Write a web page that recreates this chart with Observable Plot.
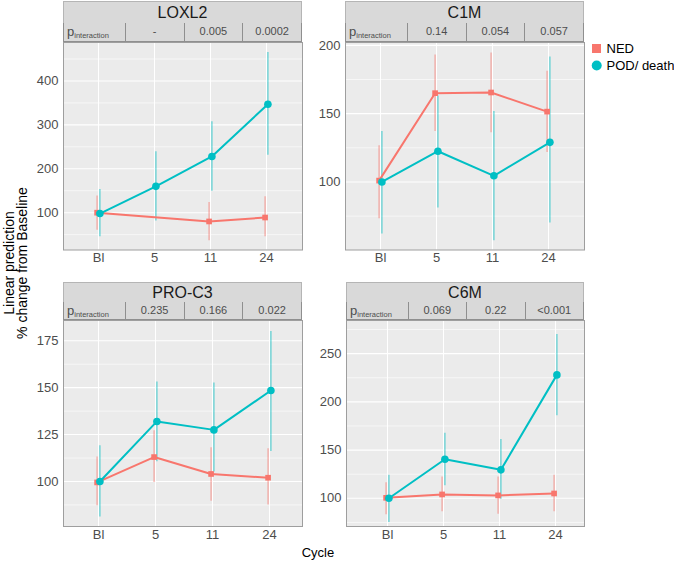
<!DOCTYPE html>
<html><head><meta charset="utf-8">
<script src="https://cdn.jsdelivr.net/npm/d3@7"></script>
<script src="https://cdn.jsdelivr.net/npm/@observablehq/plot@0.6"></script>
<style>
body{margin:0;background:#fff;}
#root{position:relative;width:674px;height:562px;overflow:hidden;background:#fff;font-family:"Liberation Sans",Arial,Helvetica,sans-serif;}
.strip{position:absolute;box-sizing:border-box;background:#d9d9d9;border:1px solid #b5b5b5;text-align:center;color:#1a1a1a;font-size:16px;}
.trow{position:absolute;box-sizing:border-box;display:flex;background:#d9d9d9;border:1px solid #8f8f8f;border-top:none;}
.cell{flex:1;box-sizing:border-box;border-left:1px solid #8f8f8f;font-size:11px;color:#4d4d4d;text-align:center;white-space:nowrap;overflow:hidden;}
.cell:first-child{border-left:none;text-align:left;padding-left:3px;}
.cell .p{font-size:13px;color:#4d4d4d;}
.cell sub{font-size:7.5px;vertical-align:-2px;}
.pl{position:absolute;}
.pl svg{overflow:visible;}
</style></head><body><div id="root"></div>
<script>
// ---------- data ----------
const cycles = ["Bl", "5", "11", "24"];
const groupNames = ["NED", "POD/ death"];
const panelNames = ["LOXL2", "C1M", "PRO-C3", "C6M"];

// p_interaction values for cycles 5, 11, 24
const pLOXL2 = ["-", "0.005", "0.0002"];
const pC1M = ["0.14", "0.054", "0.057"];
const pPROC3 = ["0.235", "0.166", "0.022"];
const pC6M = ["0.069", "0.22", "<0.001"];

// y tick labels
const ticksLOXL2 = [100, 200, 300, 400];
const ticksC1M = [100, 150, 200];
const ticksPROC3 = [100, 125, 150, 175];
const ticksC6M = [100, 150, 200, 250];

// LOXL2 (NED has no estimate at cycle 5)
const loxl2NedMean = [100, null, 80, 89];
const loxl2NedLo = [60, null, 36, 45];
const loxl2NedHi = [138, null, 123, 136];
const loxl2PodMean = [98, 160, 228, 347];
const loxl2PodLo = [45, 81, 149, 231];
const loxl2PodHi = [153, 239, 307, 465];

// C1M
const c1mNedMean = [101, 165, 165.5, 151.5];
const c1mNedLo = [73, 137, 136, 121.5];
const c1mNedHi = [126.5, 193, 194.5, 181];
const c1mPodMean = [100, 122.5, 104.5, 129];
const c1mPodLo = [62, 81, 57, 70];
const c1mPodHi = [137, 163, 151.5, 191.5];

// PRO-C3
const proc3NedMean = [99.5, 113, 104, 102];
const proc3NedLo = [87, 99.5, 89.5, 87.5];
const proc3NedHi = [113, 127, 118, 117.5];
const proc3PodMean = [100, 132, 127.5, 148.5];
const proc3PodLo = [81, 110.5, 105, 116];
const proc3PodHi = [119, 153, 152.5, 180];

// C6M
const c6mNedMean = [100.5, 104, 103, 105];
const c6mNedLo = [83, 86, 83.5, 86];
const c6mNedHi = [116, 122, 122, 124];
const c6mPodMean = [100, 140.5, 129.5, 228];
const c6mPodLo = [75, 113, 99, 185.5];
const c6mPodHi = [124, 167.5, 161, 270];

// ---------- build tables ----------
function rows(mean, lo, hi) {
  return cycles.map((c, i) => ({cycle: c, mean: mean[i], lo: lo[i], hi: hi[i]})).filter(d => d.mean != null);
}
const panelData = [
  {name: panelNames[0], p: pLOXL2, ticks: ticksLOXL2, ned: rows(loxl2NedMean, loxl2NedLo, loxl2NedHi), pod: rows(loxl2PodMean, loxl2PodLo, loxl2PodHi)},
  {name: panelNames[1], p: pC1M, ticks: ticksC1M, ned: rows(c1mNedMean, c1mNedLo, c1mNedHi), pod: rows(c1mPodMean, c1mPodLo, c1mPodHi)},
  {name: panelNames[2], p: pPROC3, ticks: ticksPROC3, ned: rows(proc3NedMean, proc3NedLo, proc3NedHi), pod: rows(proc3PodMean, proc3PodLo, proc3PodHi)},
  {name: panelNames[3], p: pC6M, ticks: ticksC6M, ned: rows(c6mNedMean, c6mNedLo, c6mNedHi), pod: rows(c6mPodMean, c6mPodLo, c6mPodHi)}
];

// ---------- layout (positions/styles) ----------
const layout = [
  {left: 63, right: 302, stripTop: 1, tableTop: 23, plotTop: 41.5, plotBottom: 249, x0: 96.7, x1: 267.5, yDomain: [15, 487.6]},
  {left: 345, right: 584, stripTop: 1, tableTop: 23, plotTop: 41.5, plotBottom: 249, x0: 378.7, x1: 549.2, yDomain: [50.2, 202.1]},
  {left: 63, right: 302, stripTop: 281.5, tableTop: 301.5, plotTop: 319.5, plotBottom: 525.5, x0: 97.5, x1: 268.7, yDomain: [76, 185.8]},
  {left: 346, right: 584, stripTop: 281.5, tableTop: 301.5, plotTop: 319.5, plotBottom: 525.5, x0: 385.5, x1: 556.3, yDomain: [70.75, 284.4]}
];
const NED_COL = "#F8766D", POD_COL = "#00BFC4";
const root = document.getElementById("root");

function minorTicks(t) {
  const step = t[1] - t[0];
  const out = [t[0] - step / 2];
  t.forEach(v => out.push(v + step / 2));
  return out;
}

panelData.forEach((pd, k) => {
  const L = layout[k];
  const w = L.right - L.left;
  // strip
  const strip = document.createElement("div");
  strip.className = "strip";
  Object.assign(strip.style, {left: L.left + "px", top: L.stripTop + "px", width: w + "px", height: (L.tableTop - L.stripTop + 1) + "px", lineHeight: (L.tableTop - L.stripTop - 1) + "px"});
  strip.textContent = pd.name;
  root.appendChild(strip);
  // table row
  const tr = document.createElement("div");
  tr.className = "trow";
  const th = L.plotTop - L.tableTop;
  Object.assign(tr.style, {left: L.left + "px", top: L.tableTop + "px", width: w + "px", height: th + "px"});
  const c0 = document.createElement("div");
  c0.className = "cell";
  c0.style.lineHeight = (th - 1) + "px";
  c0.innerHTML = '<span class="p">p</span><sub>interaction</sub>';
  tr.appendChild(c0);
  pd.p.forEach(v => {
    const c = document.createElement("div");
    c.className = "cell";
    c.style.lineHeight = (th - 1) + "px";
    c.textContent = v;
    tr.appendChild(c);
  });
  root.appendChild(tr);

  // plot
  const mL = 60, mR = 4, mB = 30;
  const svgLeft = L.left - mL;
  const ph = L.plotBottom - L.plotTop;
  const chart = Plot.plot({
    width: w + mL + mR,
    height: ph + mB,
    marginLeft: mL, marginRight: mR, marginTop: 0, marginBottom: mB,
    style: {fontSize: "13px", fontFamily: "'Liberation Sans', Arial, sans-serif", color: "#4d4d4d", background: "transparent", overflow: "visible"},
    x: {type: "point", domain: cycles, range: [L.x0 - svgLeft, L.x1 - svgLeft], padding: 0},
    y: {domain: L.yDomain},
    marks: [
      Plot.frame({fill: "#ebebeb", stroke: null}),
      Plot.ruleY(minorTicks(pd.ticks).filter(v => v > L.yDomain[0] && v < L.yDomain[1]), {stroke: "#ffffff", strokeWidth: 0.6}),
      Plot.ruleY(pd.ticks, {stroke: "#ffffff", strokeWidth: 1.1}),
      Plot.ruleX(cycles, {stroke: "#ffffff", strokeWidth: 1.1}),
      Plot.ruleX(pd.ned, {x: "cycle", y1: "lo", y2: "hi", stroke: NED_COL, strokeOpacity: 0.5, strokeWidth: 1.5, dx: -1.4}),
      Plot.ruleX(pd.pod, {x: "cycle", y1: "lo", y2: "hi", stroke: POD_COL, strokeOpacity: 0.5, strokeWidth: 1.5, dx: 1.4}),
      Plot.line(pd.ned, {x: "cycle", y: "mean", stroke: NED_COL, strokeWidth: 2, dx: -1.4}),
      Plot.line(pd.pod, {x: "cycle", y: "mean", stroke: POD_COL, strokeWidth: 2, dx: 1.4}),
      Plot.dot(pd.ned, {x: "cycle", y: "mean", fill: NED_COL, symbol: "square", r: 3.2, dx: -1.4}),
      Plot.dot(pd.pod, {x: "cycle", y: "mean", fill: POD_COL, symbol: "circle", r: 3.8, dx: 1.4}),
      Plot.frame({stroke: "#9e9e9e", strokeWidth: 1}),
      Plot.axisY({ticks: pd.ticks, tickSize: 0, tickPadding: 5, label: null, fontSize: 13, fill: "#4d4d4d"}),
      Plot.axisX({tickSize: 0, tickPadding: 3, label: null, fontSize: 13, fill: "#4d4d4d"})
    ]
  });
  const holder = document.createElement("div");
  holder.className = "pl";
  Object.assign(holder.style, {left: svgLeft + "px", top: L.plotTop + "px"});
  holder.appendChild(chart);
  root.appendChild(holder);
});

// ---------- overlay: axis titles and legend ----------
const ov = d3.select(root).append("svg")
  .attr("width", 674).attr("height", 562)
  .style("position", "absolute").style("left", "0px").style("top", "0px")
  .style("pointer-events", "none")
  .style("font-family", "'Liberation Sans', Arial, sans-serif");

const yt = ov.append("text").attr("transform", "translate(0,263) rotate(-90)")
  .attr("text-anchor", "middle").attr("font-size", 14).attr("fill", "#000");
yt.append("tspan").attr("x", 0).attr("y", 14).text("Linear prediction");
yt.append("tspan").attr("x", 0).attr("y", 27).text("% change from Baseline");

ov.append("text").attr("x", 318).attr("y", 557).attr("text-anchor", "middle")
  .attr("font-size", 13).attr("fill", "#000").text("Cycle");

const lg = ov.append("g");
lg.append("rect").attr("x", 592).attr("y", 44).attr("width", 9).attr("height", 9).attr("fill", NED_COL);
lg.append("text").attr("x", 606.5).attr("y", 48.5).attr("dy", "0.35em").attr("font-size", 13).attr("fill", "#000").text(groupNames[0]);
lg.append("circle").attr("cx", 596.7).attr("cy", 65.5).attr("r", 5).attr("fill", POD_COL);
lg.append("text").attr("x", 606.5).attr("y", 65.5).attr("dy", "0.35em").attr("font-size", 13).attr("fill", "#000").text(groupNames[1]);
</script>
</body></html>
